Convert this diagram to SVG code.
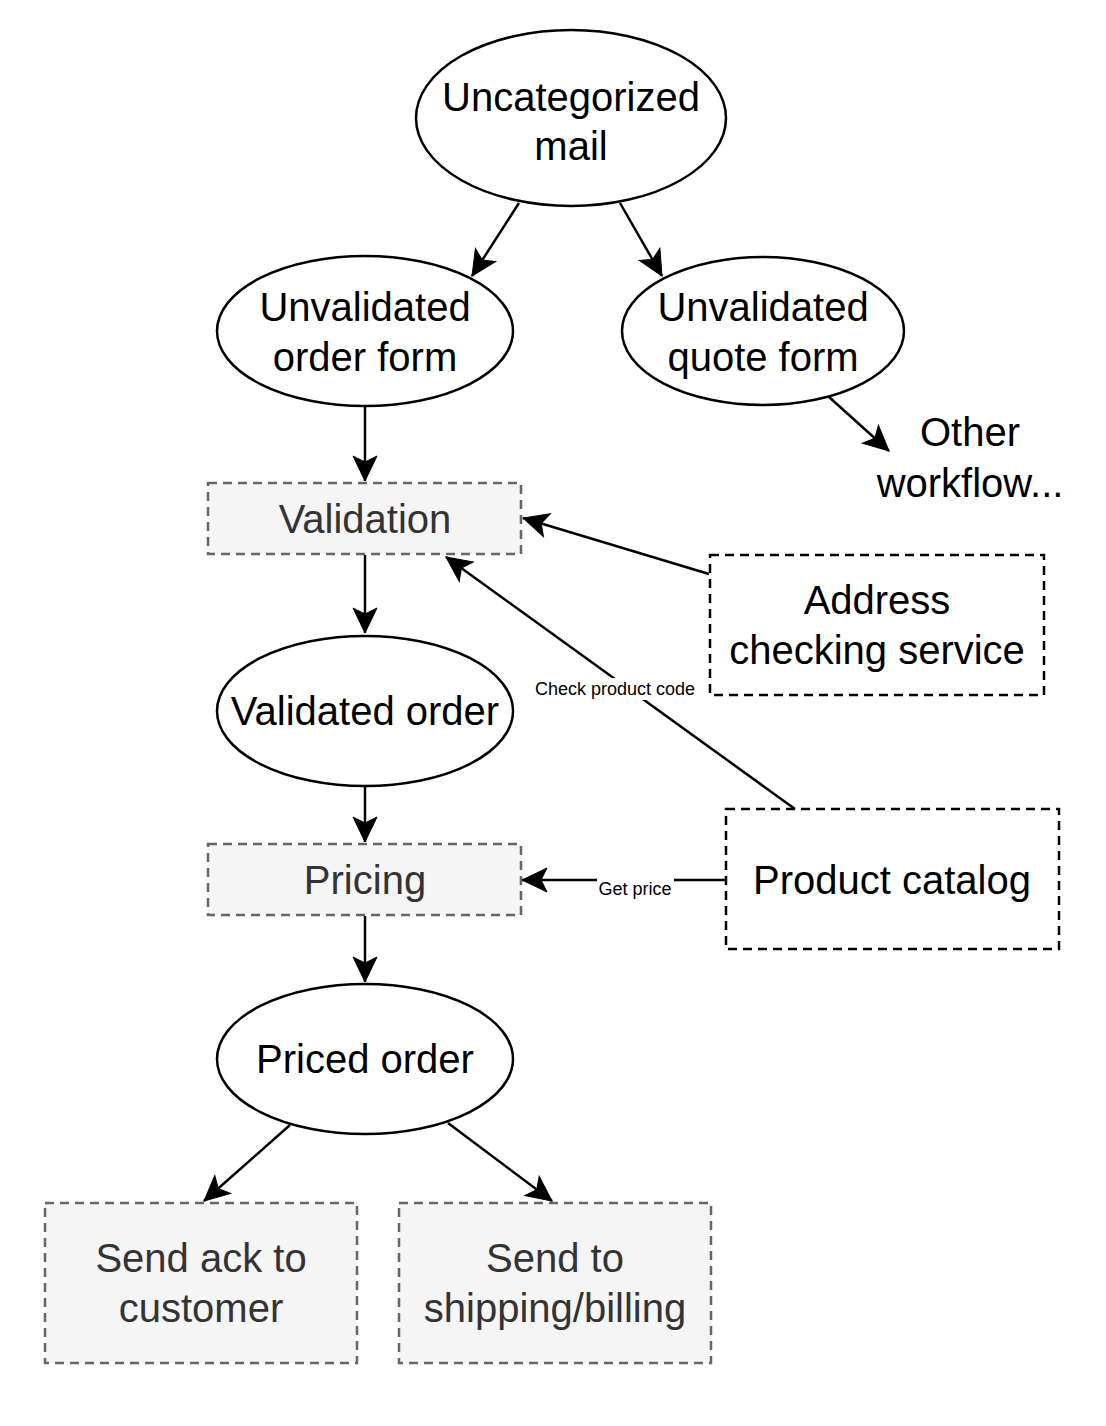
<svg xmlns="http://www.w3.org/2000/svg" width="1106" height="1426" viewBox="0 0 1106 1426">
<style>
.t{font-family:"Liberation Sans",Arial,sans-serif;font-size:40px;text-anchor:middle;fill:#000}
.g{fill:#333}
.s{font-family:"Liberation Sans",Arial,sans-serif;font-size:18px;text-anchor:middle;fill:#000}
.e{fill:#fff;stroke:#000;stroke-width:2.5}
.p{fill:#f5f5f5;stroke:#666;stroke-width:2.5;stroke-dasharray:9 6}
.x{fill:#fff;stroke:#000;stroke-width:2.5;stroke-dasharray:9 6}
.c{fill:none;stroke:#000;stroke-width:2.5;marker-end:url(#a)}
</style>
<defs>
<marker id="a" markerUnits="userSpaceOnUse" markerWidth="32" markerHeight="32" viewBox="-28 -14 32 28" refX="0" refY="0" orient="auto">
<path d="M0,0 L-25,-12 L-19,0 L-25,12 Z" fill="#000" stroke="#000" stroke-width="1"/>
</marker>
</defs>
<rect width="1106" height="1426" fill="#fff"/>
<g id="connectors">
<line class="c" x1="519" y1="203" x2="472" y2="276"/>
<line class="c" x1="620" y1="203" x2="662" y2="276"/>
<line class="c" x1="365" y1="406" x2="365" y2="481"/>
<line class="c" x1="829" y1="397" x2="889" y2="451"/>
<line class="c" x1="709" y1="574" x2="523" y2="518"/>
<line class="c" x1="795" y1="809" x2="446" y2="557"/>
<rect x="533" y="678" width="164" height="22" fill="#fff"/>
<text class="s" x="615" y="695">Check product code</text>
<line class="c" x1="365" y1="555" x2="365" y2="633"/>
<line class="c" x1="365" y1="787" x2="365" y2="842"/>
<line class="c" x1="726" y1="880" x2="522" y2="880"/>
<rect x="597" y="870" width="77" height="22" fill="#fff"/>
<text class="s" x="635" y="895">Get price</text>
<line class="c" x1="365" y1="916" x2="365" y2="982"/>
<line class="c" x1="290" y1="1125" x2="204" y2="1201"/>
<line class="c" x1="448" y1="1123" x2="552" y2="1201"/>
</g>
<g id="uncategorized">
<ellipse class="e" cx="571" cy="118" rx="155" ry="88"/>
<text class="t" x="571" y="111">Uncategorized</text>
<text class="t" x="571" y="160">mail</text>
</g>
<g id="unvalidated-order">
<ellipse class="e" cx="365" cy="331" rx="148" ry="75"/>
<text class="t" x="365" y="321">Unvalidated</text>
<text class="t" x="365" y="371">order form</text>
</g>
<g id="unvalidated-quote">
<ellipse class="e" cx="763" cy="331" rx="141" ry="74"/>
<text class="t" x="763" y="321">Unvalidated</text>
<text class="t" x="763" y="371">quote form</text>
</g>
<g id="other-workflow">
<text class="t" x="970" y="446">Other</text>
<text class="t" x="970" y="497">workflow...</text>
</g>
<g id="validation">
<rect class="p" x="208" y="483" width="313" height="71"/>
<text class="t g" x="365" y="533">Validation</text>
</g>
<g id="address">
<rect class="x" x="710" y="555" width="334" height="140"/>
<text class="t" x="877" y="614">Address</text>
<text class="t" x="877" y="664">checking service</text>
</g>
<g id="validated-order">
<ellipse class="e" cx="365" cy="711" rx="148" ry="75"/>
<text class="t" x="365" y="725">Validated order</text>
</g>
<g id="pricing">
<rect class="p" x="208" y="844" width="313" height="71"/>
<text class="t g" x="365" y="894">Pricing</text>
</g>
<g id="product-catalog">
<rect class="x" x="726" y="809" width="333" height="140"/>
<text class="t" x="892" y="894">Product catalog</text>
</g>
<g id="priced-order">
<ellipse class="e" cx="365" cy="1059" rx="148" ry="75"/>
<text class="t" x="365" y="1073">Priced order</text>
</g>
<g id="send-ack">
<rect class="p" x="45" y="1203" width="312" height="160"/>
<text class="t g" x="201" y="1272">Send ack to</text>
<text class="t g" x="201" y="1322">customer</text>
</g>
<g id="send-shipping">
<rect class="p" x="399" y="1203" width="312" height="160"/>
<text class="t g" x="555" y="1272">Send to</text>
<text class="t g" x="555" y="1322">shipping/billing</text>
</g>
</svg>
